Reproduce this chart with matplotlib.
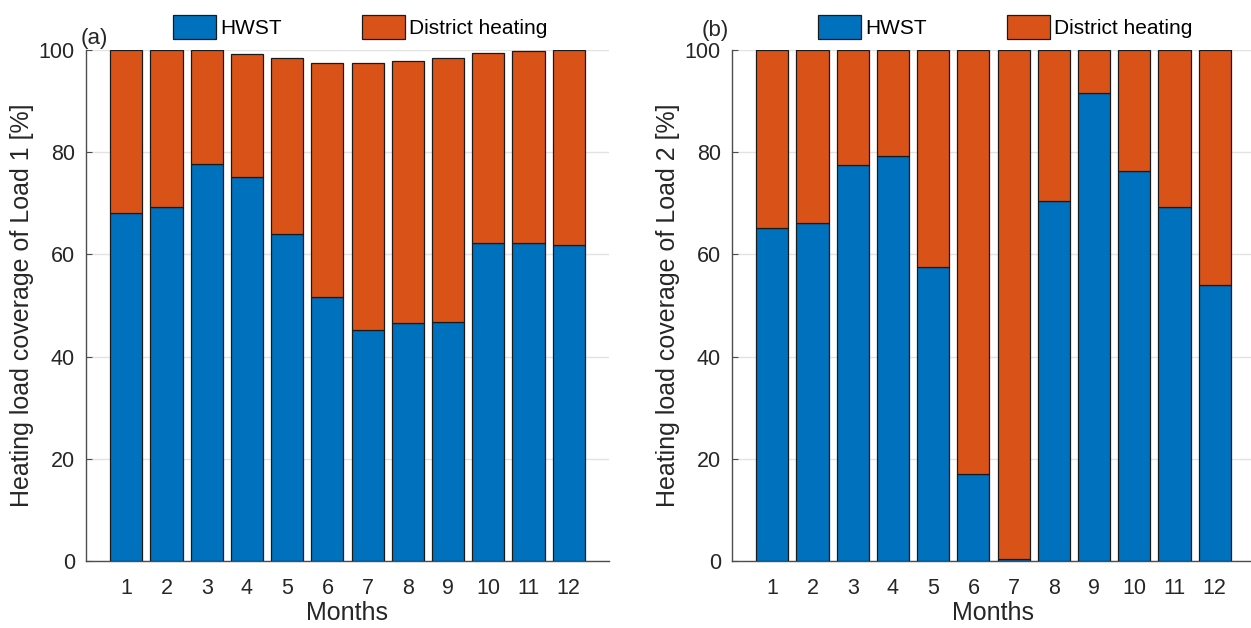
import matplotlib

matplotlib.use("Agg")

import matplotlib.pyplot as plt
import numpy as np

months = np.arange(1, 13)
month_labels = [str(m) for m in months]

# panel (a): load 1
hwst_load1 = [68.1, 69.2, 77.7, 75.2, 64.0, 51.7, 45.3, 46.5, 46.7, 62.3, 62.3, 61.8]
total_load1 = [100.0, 100.0, 100.0, 99.3, 98.4, 97.5, 97.5, 97.9, 98.4, 99.5, 99.8, 100.0]

# panel (b): load 2
hwst_load2 = [65.1, 66.1, 77.5, 79.2, 57.5, 17.0, 0.3, 70.4, 91.5, 76.4, 69.2, 54.1]
total_load2 = [100.0] * 12

series_names = ["HWST", "District heating"]
y_ticks = [0, 20, 40, 60, 80, 100]

BLUE = "#0072BD"
ORANGE = "#D95319"
TEXT = "#262626"

plt.rcParams["font.family"] = ["Liberation Sans", "DejaVu Sans"]
plt.rcParams["font.size"] = 15

W, H = 1251, 628
fig = plt.figure(figsize=(W / 100, H / 100), dpi=100)


def px_axes(left, right, top, bottom):
    return fig.add_axes([left / W, (H - bottom) / H, (right - left) / W, (bottom - top) / H])


def draw_panel(ax, hwst, total, ylabel, tag, tag_xy, legend_x):
    hwst = np.array(hwst)
    district = np.array(total) - hwst
    b1 = ax.bar(months, hwst, width=0.8, color=BLUE, edgecolor="#1a1a1a", linewidth=0.9, zorder=3)
    b2 = ax.bar(months, district, bottom=hwst, width=0.8, color=ORANGE, edgecolor="#1a1a1a",
                linewidth=0.9, zorder=3)

    ax.set_xlim(0, 13)
    ax.set_ylim(0, 100)
    ax.set_xticks(months, month_labels)
    ax.set_yticks(y_ticks)
    ax.grid(axis="y", color="#e3e3e3", linewidth=1.0, zorder=0)
    ax.set_axisbelow(True)
    for side in ["top", "right"]:
        ax.spines[side].set_visible(False)
    for side in ["left", "bottom"]:
        ax.spines[side].set_color("#4d4d4d")
        ax.spines[side].set_linewidth(1.0)
    ax.tick_params(axis="both", direction="in", length=4, color="#4d4d4d", labelcolor=TEXT,
                   labelsize=15.5)
    ax.tick_params(axis="y", pad=8)
    ax.tick_params(axis="x", pad=12)

    ax.set_xlabel("Months", color=TEXT, fontsize=18, labelpad=2)
    ax.set_ylabel(ylabel, color=TEXT, fontsize=18)
    ax.yaxis.set_label_coords(-52 / 523, 0.5)

    fig.text(tag_xy[0] / W, (H - tag_xy[1]) / H, tag, color=TEXT, fontsize=16, ha="left",
             va="baseline")

    ax.legend([b1, b2], series_names, loc="center", bbox_to_anchor=(legend_x / W, (H - 27) / H),
              bbox_transform=fig.transFigure, ncol=2, frameon=False, fontsize=15,
              handlelength=2.07, handleheight=1.35, handletextpad=0.2, columnspacing=3.85,
              borderpad=0, borderaxespad=0)


ax_a = px_axes(86, 609, 50, 561)
draw_panel(ax_a, hwst_load1, total_load1, "Heating load coverage of Load 1 [%]", "(a)", (81, 44), 360)

ax_b = px_axes(732, 1255, 50, 561)
draw_panel(ax_b, hwst_load2, total_load2, "Heating load coverage of Load 2 [%]", "(b)", (702, 36), 1005)

fig.savefig("out.png", dpi=100)
